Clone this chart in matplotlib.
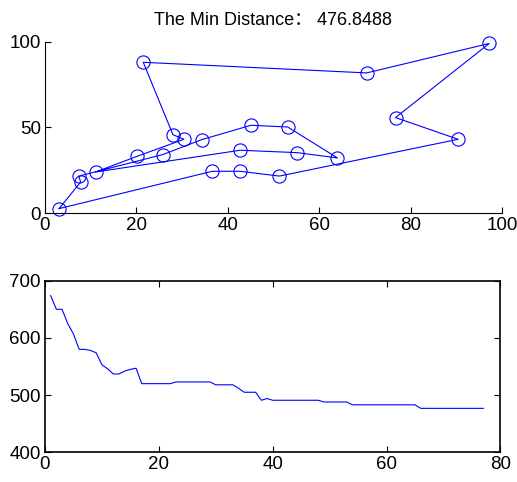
import matplotlib
matplotlib.use("Agg")
import matplotlib.pyplot as plt
import numpy as np

# city coordinates, in tour order (tour is closed)
city_x = [3.1, 7.8, 7.4, 25.8, 34.3, 45.1, 53.1, 64.0, 55.2, 42.7, 11.1, 20.2,
          30.4, 28.0, 21.5, 70.4, 97.2, 76.7, 90.4, 51.3, 42.7, 36.6]
city_y = [2.6, 18.1, 21.6, 34.2, 42.9, 51.3, 50.3, 32.2, 35.3, 36.7, 24.0, 33.2,
          43.1, 45.8, 88.1, 81.9, 99.1, 55.8, 43.1, 21.6, 24.4, 24.4]

# best distance per generation
best_dist = [674, 650, 650, 625, 607, 580, 580, 578, 574, 553,
             546, 537, 537, 542, 545, 547, 520, 520, 520, 520,
             520, 520, 523, 523, 523, 523, 523, 523, 523, 518,
             518, 518, 518, 512, 505, 505, 505, 491, 494, 491,
             491, 491, 491, 491, 491, 491, 491, 491, 488, 488,
             488, 488, 488, 483, 483, 483, 483, 483, 483, 483,
             483, 483, 483, 483, 483, 476.8488, 476.8488, 476.8488, 476.8488, 476.8488,
             476.8488, 476.8488, 476.8488, 476.8488, 476.8488, 476.8488, 476.8488]
min_dist = 476.8488

plt.rcParams['font.family'] = ['Liberation Sans', 'Noto Sans CJK SC']

fig = plt.figure(figsize=(5.17, 4.82), dpi=100)

ax1 = fig.add_axes([0.087, 0.558, 0.884, 0.355])
tx = city_x + city_x[:1]
ty = city_y + city_y[:1]
ax1.plot(tx, ty, '-', color='blue', lw=0.8, clip_on=False)
ax1.plot(city_x, city_y, 'o', mfc='none', mec='blue', ms=9.5, mew=0.8,
         clip_on=False)
ax1.set_xlim(0, 100)
ax1.set_ylim(0, 100)
ax1.set_xticks([0, 20, 40, 60, 80, 100])
ax1.set_yticks([0, 50, 100])
ax1.spines['top'].set_visible(False)
ax1.spines['right'].set_visible(False)
ax1.tick_params(direction='in', length=4, labelsize=13.5, pad=3)
ax1.set_title('The Min Distance： %.4f' % min_dist, fontsize=13, pad=12)

ax2 = fig.add_axes([0.087, 0.0616, 0.881, 0.356])
gens = np.arange(1, len(best_dist) + 1)
ax2.plot(gens, best_dist, '-', color='blue', lw=0.8)
ax2.set_xlim(0, 80)
ax2.set_ylim(400, 700)
ax2.set_xticks([0, 20, 40, 60, 80])
ax2.set_yticks([400, 500, 600, 700])
ax2.tick_params(direction='in', length=4, labelsize=13.5, pad=3,
                top=True, right=True)
for s in ax2.spines.values():
    s.set_linewidth(1.2)

fig.savefig('out.png', dpi=100)
